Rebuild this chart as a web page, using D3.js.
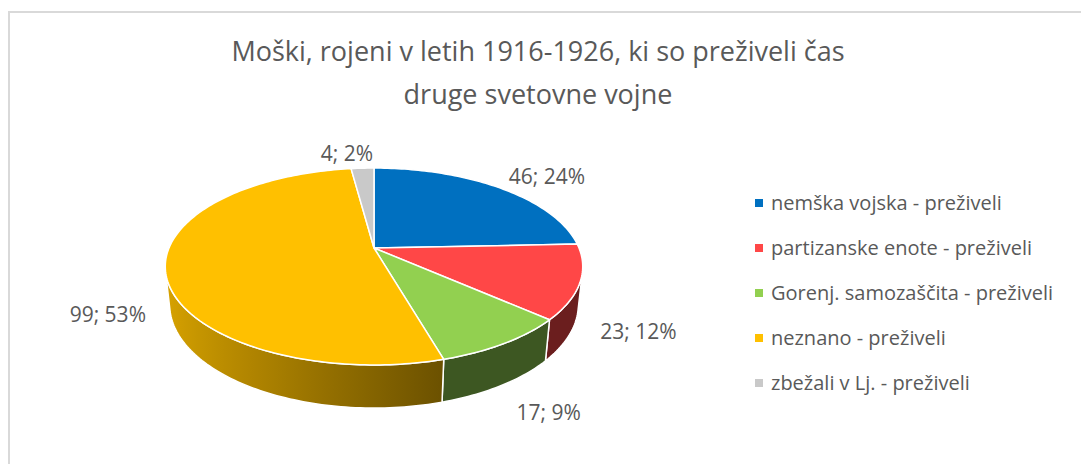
<!DOCTYPE html>
<html>
<head>
<meta charset="utf-8">
<script src="https://cdn.jsdelivr.net/npm/d3@7"></script>
<style>
  body { margin: 0; background: #fff; }
  text { font-family: "Open Sans", sans-serif; fill: #595959; }
</style>
</head>
<body>
<div id="chart"></div>
<script>
// Data
const categories = [
    "nemška vojska - preživeli",
    "partizanske enote - preživeli",
    "Gorenj. samozaščita - preživeli",
    "neznano - preživeli",
    "zbežali v Lj. - preživeli"
];
const values = [46, 23, 17, 99, 4];
const percents = [24, 12, 9, 53, 2]; // as printed on the chart
const colors = ["#0070c0", "#ff4747", "#92d050", "#ffc000", "#c9c9c9"];
const titleLines = ["Moški, rojeni v letih 1916-1926, ki so preživeli čas", "druge svetovne vojne"];

const W = 1081, H = 464;

const svg = d3.select("#chart")
    .append("svg")
    .attr("width", W)
    .attr("height", H);

// chart frame (only left + top borders are visible in the crop)
svg.append("path")
    .attr("d", `M9,${H} V12 H${W}`)
    .attr("fill", "none")
    .attr("stroke", "#d9d9d9")
    .attr("stroke-width", 2);

// Title
svg.append("g").selectAll("text")
    .data(titleLines)
    .enter()
    .append("text")
    .attr("x", 538)
    .attr("y", (d, i) => 61 + i * 43)
    .attr("text-anchor", "middle")
    .style("font-size", "27px")
    .text(d => d);

// 3D pie projection
const cx = 374, cy = 248;          // screen position of the pie centre
const phi = 27.6 * Math.PI / 180;  // tilt
const dist = 4.717;                // camera distance (radius units)
const focal = 967;
const depth = 0.211;               // thickness of the pie
const sp = Math.sin(phi), cp = Math.cos(phi);

function project(r, a, z) {
    const x = r * Math.sin(a), y = r * Math.cos(a);
    const yc = y * sp + z * cp;
    const zc = y * cp - z * sp + dist;
    return [cx + focal * x / zc, cy - focal * yc / zc];
}

const pie = d3.pie().sort(null).value(d => d)(values);

// walls facing the camera: cos(a) < -1/(dist*cos(phi))
const visLimit = Math.acos(-1 / (dist * cp));
const visMin = visLimit, visMax = 2 * Math.PI - visLimit;

function arcPoints(a0, a1, z) {
    const n = Math.max(2, Math.ceil(Math.abs(a1 - a0) / 0.02));
    return d3.range(n + 1).map(i => project(1, a0 + (a1 - a0) * i / n, z));
}

function shade(a) {
    const t = Math.max(0, Math.min(1, (-Math.sin(a) + 0.28) / 1.25));
    return 0.42 + 0.43 * t;
}

const line = d3.line();
const defs = svg.append("defs");
const pieG = svg.append("g");

// side walls
pie.forEach((d, i) => {
    const a0 = Math.max(d.startAngle, visMin), a1 = Math.min(d.endAngle, visMax);
    if (a1 <= a0) return;
    const top = arcPoints(a0, a1, 0);
    const bottom = arcPoints(a1, a0, -depth);
    const pts = top.concat(bottom);
    const xs = pts.map(p => p[0]);
    const x1 = d3.min(xs), x2 = d3.max(xs);
    const grad = defs.append("linearGradient")
        .attr("id", "side" + i)
        .attr("gradientUnits", "userSpaceOnUse")
        .attr("x1", x1).attr("x2", x2).attr("y1", 0).attr("y2", 0);
    const base = d3.rgb(colors[i]);
    const stops = d3.range(11).map(k => a0 + (a1 - a0) * k / 10);
    stops.sort((p, q) => project(1, p, 0)[0] - project(1, q, 0)[0]);
    stops.forEach(a => {
        const f = shade(a);
        grad.append("stop")
            .attr("offset", Math.max(0, Math.min(1, (project(1, a, 0)[0] - x1) / (x2 - x1))))
            .attr("stop-color", d3.rgb(base.r * f, base.g * f, base.b * f));
    });
    pieG.append("path")
        .attr("d", line(pts) + "Z")
        .attr("fill", `url(#side${i})`)
        .attr("stroke", "#fff")
        .attr("stroke-width", 1.5)
        .attr("stroke-linejoin", "round");
});

// top faces
pie.forEach((d, i) => {
    const pts = [project(0, 0, 0)].concat(arcPoints(d.startAngle, d.endAngle, 0));
    pieG.append("path")
        .attr("d", line(pts) + "Z")
        .attr("fill", colors[i])
        .attr("stroke", "#fff")
        .attr("stroke-width", 1.5)
        .attr("stroke-linejoin", "round");
});

// data labels
const labelG = svg.append("g");
pie.forEach((d, i) => {
    const a = (d.startAngle + d.endAngle) / 2;
    const front = Math.cos(a) < 0;
    const p = project(front ? 1.2 : 1.27, a, front ? -depth : 0);
    const txt = labelG.append("text")
        .attr("text-anchor", "middle")
        .attr("dy", "0.35em")
        .style("font-size", "21px")
        .text(`${d.value}; ${percents[i]}%`);
    const w = txt.node().getComputedTextLength();
    txt.attr("x", p[0] + Math.sign(Math.sin(a)) * w / 4)
        .attr("y", p[1] + 3);
});

// Legend
const legend = svg.append("g").selectAll("g")
    .data(categories)
    .enter()
    .append("g")
    .attr("transform", (d, i) => `translate(755,${203 + i * 45})`);

legend.append("rect")
    .attr("x", 0).attr("y", -4)
    .attr("width", 8).attr("height", 8)
    .attr("fill", (d, i) => colors[i]);

legend.append("text")
    .attr("x", 16)
    .attr("dy", "0.35em")
    .style("font-size", "20px")
    .text(d => d);
</script>
</body>
</html>
